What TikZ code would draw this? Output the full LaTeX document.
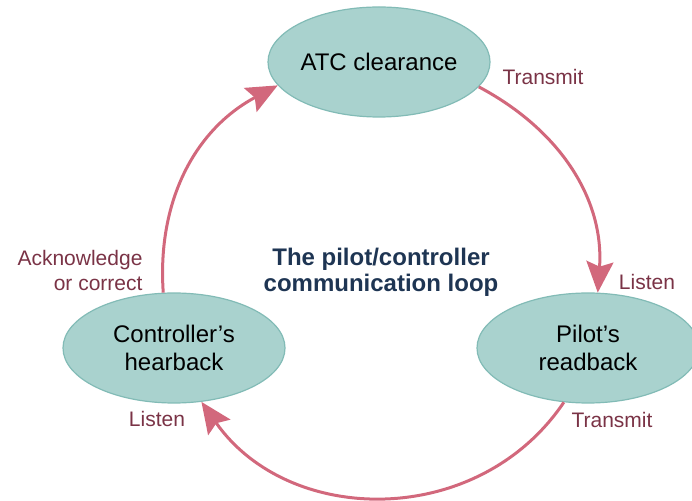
\documentclass[tikz,border=0pt]{standalone}
\usepackage{fontspec}
\setmainfont{Liberation Sans}
\usetikzlibrary{shapes.geometric,arrows.meta}
\definecolor{loopfill}{HTML}{A9D2CE}
\definecolor{loopedge}{HTML}{82BBB6}
\definecolor{looparrow}{HTML}{D2687C}
\definecolor{looplabel}{HTML}{7A3346}
\definecolor{looptitle}{HTML}{1E3553}
\begin{document}
\begin{tikzpicture}[x=1pt,y=1pt,
  stage/.style={ellipse,fill=loopfill,draw=loopedge,line width=1.2pt,minimum width=222pt,
    minimum height=110pt,inner sep=0pt,align=center,
    font=\fontsize{24}{28}\selectfont},
  lbl/.style={text=looplabel,font=\fontsize{21}{25}\selectfont},
  flow/.style={draw=looparrow,line width=3pt,-{Stealth[length=31pt,width=27pt,inset=5pt]}}]
\useasboundingbox (0,0) rectangle (692,500);

\node[stage] (atc) at (379,438) {ATC clearance};
\node[stage] (pilot) at (588,152) {Pilot's\\readback};
\node[stage] (hear) at (174,152) {Controller's\\hearback};

\node[anchor=center,align=center,text=looptitle,font=\bfseries\fontsize{24}{26}\selectfont] (title) at (381,228) {The pilot/controller\\communication loop};

\node[lbl,anchor=center] (tr1) at (543,423) {Transmit};
\node[lbl,anchor=center] (li1) at (647,218) {Listen};
\node[lbl,anchor=center] (tr2) at (612,80) {Transmit};
\node[lbl,anchor=center] (li2) at (157,81) {Listen};
\node[lbl,anchor=east,align=right] (ack) at (146,230) {Acknowledge\\or correct};

\draw[flow] (atc.-14) to[out=-28,in=86] (pilot.80);
\draw[flow] (pilot.-114) to[out=-124,in=-55,looseness=1.08] (hear.-63);
\draw[flow] (hear.101) to[out=94,in=-152] (atc.193);
\end{tikzpicture}
\end{document}
